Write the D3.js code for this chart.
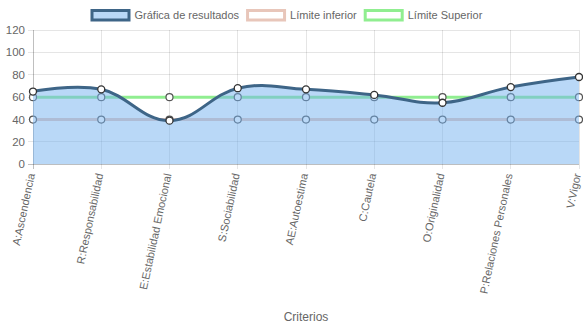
<!DOCTYPE html>
<html>
<head>
<meta charset="utf-8">
<script src="https://cdn.jsdelivr.net/npm/d3@7"></script>
<style>
  html, body { margin: 0; padding: 0; background: #fff; }
  svg { display: block; font-family: "Liberation Sans", Arial, Helvetica, sans-serif; }
</style>
</head>
<body>
<svg id="chart" width="583" height="328"></svg>
<script>
// Criterios evaluados
const categories = [
  "A:Ascendencia", "R:Responsabilidad", "E:Estabilidad Emocional",
  "S:Sociabilidad", "AE:Autoestima", "C:Cautela", "O:Originalidad",
  "P:Relaciones Personales", "V:Vigor"
];
// Puntajes obtenidos
const resultados = [65, 67, 39, 68, 67, 62, 55, 69, 78];
// Límites de referencia
const limiteInferior = [40, 40, 40, 40, 40, 40, 40, 40, 40];
const limiteSuperior = [60, 60, 60, 60, 60, 60, 60, 60, 60];
const yTicks = [0, 20, 40, 60, 80, 100, 120];

const seriesNames = ["Gráfica de resultados", "Límite inferior", "Límite Superior"];

const svg = d3.select("#chart");
const plot = { left: 33, right: 579, top: 30, bottom: 164.3 };

const x = d3.scalePoint().domain(categories).range([plot.left, plot.right]);
const y = d3.scaleLinear().domain([0, 120]).range([plot.bottom, plot.top]);

const textColor = "#666";
const gridColor = "rgba(0,0,0,0.1)";

// Grid
const g = svg.append("g");
g.selectAll(".hgrid").data(yTicks).join("line")
  .attr("x1", plot.left - 5).attr("x2", plot.right)
  .attr("y1", d => y(d)).attr("y2", d => y(d))
  .attr("stroke", d => d === 0 ? "rgba(0,0,0,0.25)" : gridColor)
  .attr("stroke-width", 1)
  .attr("shape-rendering", "crispEdges");
g.selectAll(".vgrid").data(categories).join("line")
  .attr("x1", d => x(d)).attr("x2", d => x(d))
  .attr("y1", plot.top).attr("y2", plot.bottom + 5)
  .attr("stroke", (d, i) => i === 0 ? "rgba(0,0,0,0.25)" : gridColor)
  .attr("stroke-width", 1)
  .attr("shape-rendering", "crispEdges");

// Y axis labels
g.selectAll(".ylab").data(yTicks).join("text")
  .attr("x", plot.left - 8).attr("y", d => y(d))
  .attr("dy", "0.35em")
  .attr("text-anchor", "end")
  .attr("font-size", 11.5).attr("fill", textColor)
  .text(d => d);

// X axis labels (rotated)
g.selectAll(".xlab").data(categories).join("text")
  .attr("transform", d => `translate(${x(d) + 2},${plot.bottom + 10}) rotate(-78)`)
  .attr("text-anchor", "end")
  .attr("font-size", 11).attr("fill", textColor)
  .text(d => d);

// Axis title
g.append("text")
  .attr("x", (plot.left + plot.right) / 2).attr("y", 321)
  .attr("text-anchor", "middle")
  .attr("font-size", 12).attr("fill", textColor)
  .text("Criterios");

const curve = d3.curveCardinal.tension(-0.2);
const lineGen = d3.line().x((d, i) => x(categories[i])).y(d => y(d)).curve(curve);
const areaGen = d3.area().x((d, i) => x(categories[i])).y0(y(0)).y1(d => y(d)).curve(curve);

const pink = "#e8c6ba";
const green = "#90ee90";
const fillBlue = "rgba(115,178,240,0.5)";
const lineBlue = "#3e6587";

// Limit lines (drawn underneath the results)
[[limiteSuperior, green], [limiteInferior, pink]].forEach(([data, col]) => {
  svg.append("path").datum(data)
    .attr("d", d3.line().x((d, i) => x(categories[i])).y(d => y(d)))
    .attr("fill", "none").attr("stroke", col).attr("stroke-width", 3);
  svg.append("g").selectAll("circle").data(data).join("circle")
    .attr("cx", (d, i) => x(categories[i])).attr("cy", d => y(d))
    .attr("r", 3.5).attr("fill", "#fff").attr("stroke", "#555").attr("stroke-width", 1.2);
});

// Results area + line
const clip = svg.append("clipPath").attr("id", "plotclip");
clip.append("rect").attr("x", plot.left).attr("y", plot.top)
  .attr("width", plot.right - plot.left).attr("height", plot.bottom - plot.top);

svg.append("path").datum(resultados)
  .attr("d", areaGen)
  .attr("fill", fillBlue)
  .attr("clip-path", "url(#plotclip)");
svg.append("path").datum(resultados)
  .attr("d", lineGen)
  .attr("fill", "none").attr("stroke", lineBlue).attr("stroke-width", 3);
svg.append("g").selectAll("circle").data(resultados).join("circle")
  .attr("cx", (d, i) => x(categories[i])).attr("cy", d => y(d))
  .attr("r", 3.5).attr("fill", "#fff").attr("stroke", "#333").attr("stroke-width", 1.3);

// Legend
const legendItems = [
  { name: seriesNames[0], fill: "#b9d8f7", stroke: lineBlue },
  { name: seriesNames[1], fill: "#fff", stroke: pink },
  { name: seriesNames[2], fill: "#fff", stroke: green }
];
const legend = svg.append("g");
const legendFont = 11;
const tmp = svg.append("text").attr("font-size", legendFont).attr("visibility", "hidden");
const widths = legendItems.map(it => { tmp.text(it.name); return tmp.node().getComputedTextLength(); });
tmp.remove();
const boxW = 40, gapText = 4, gapItem = 7;
let cx = 90.5;
legendItems.forEach((it, i) => {
  legend.append("rect")
    .attr("x", cx + 1.5).attr("y", 10.5).attr("width", boxW - 3).attr("height", 9.5)
    .attr("fill", it.fill).attr("stroke", it.stroke).attr("stroke-width", 3);
  legend.append("text")
    .attr("x", cx + boxW + gapText).attr("y", 15)
    .attr("dy", "0.35em").attr("font-size", legendFont).attr("fill", textColor)
    .text(it.name);
  cx += boxW + gapText + widths[i] + gapItem;
});
</script>
</body>
</html>
